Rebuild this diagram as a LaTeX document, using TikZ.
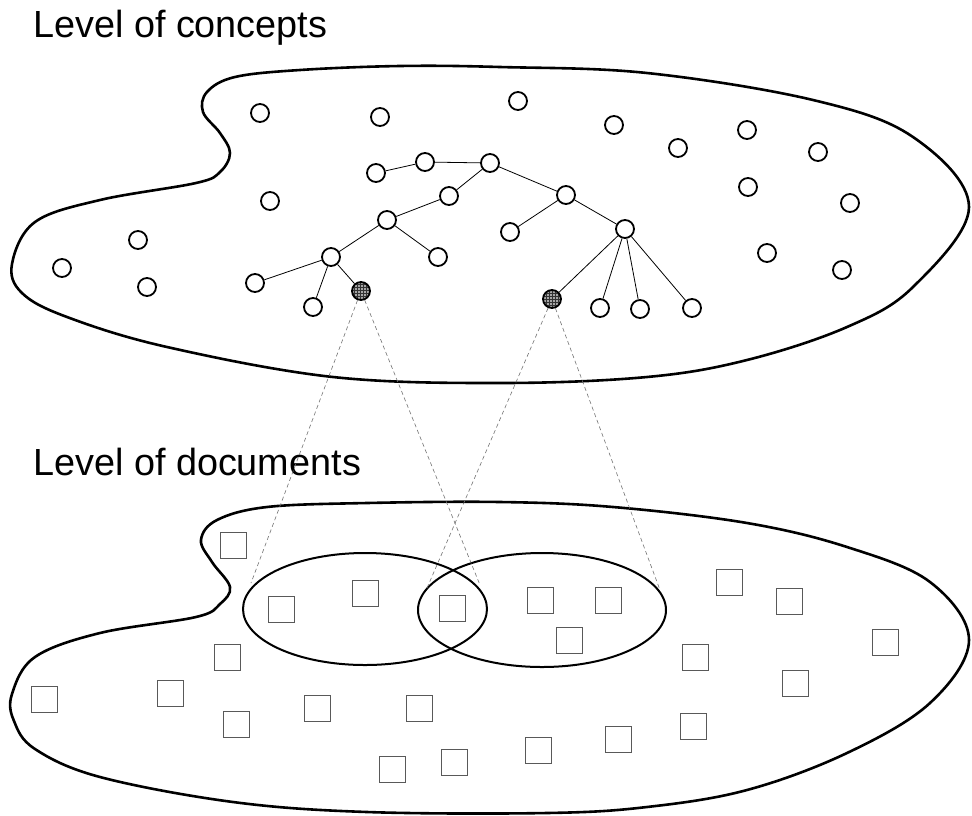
\documentclass[tikz,border=0pt]{standalone}
\usepackage{fontspec}
\setmainfont{Liberation Sans}
\usetikzlibrary{patterns}
\begin{document}
\begin{tikzpicture}[x=1pt,y=-1pt,
  blob/.style={line width=2.6pt, black},
  conc/.style={circle, draw, line width=1.8pt, minimum size=18pt, inner sep=0pt, fill=white},
  sel/.style={circle, draw, line width=1.8pt, minimum size=18pt, inner sep=0pt,
    preaction={fill=black!35}, pattern=grid, pattern color=black!80},
  tedge/.style={line width=0.8pt},
  doc/.style={rectangle, draw=black!65, line width=0.9pt, minimum size=26pt, inner sep=0pt},
  proj/.style={draw=black!55, line width=0.6pt, dash pattern=on 4pt off 3pt},
  set/.style={line width=2pt},
  lbl/.style={anchor=base west, inner sep=0pt, font=\fontsize{37.8}{42}\selectfont}
]
\useasboundingbox (0,0) rectangle (972,815);
\fill[white] (0,0) rectangle (972,815);

% labels
\node[lbl] (lc) at (33,37) {Level of concepts};
\node[lbl] (ld) at (33,475) {Level of documents};

% top blob
\draw[blob] plot[smooth cycle, tension=0.6] coordinates {
 (12,264) (35,222) (100,200) (196,183) (220,172) (230,153) (220,133) (203,112) (207,92)
 (235,77) (300,70) (400,66) (500,67) (647,73) (813,100) (913,137) (969,207)
 (913,287) (847,327) (747,360) (647,377) (500,383) (333,377) (167,347) (67,317) (22,293)};

% bottom blob
\draw[blob] plot[smooth cycle, tension=0.6] coordinates {
 (12,694) (35,657) (100,633) (196,617) (220,604) (230,587) (212,562) (201,540) (217,520)
 (267,507) (367,503) (500,502) (613,507) (747,523) (847,547) (930,582) (969,640)
 (930,703) (847,753) (747,790) (647,807) (547,813) (367,812) (233,802) (100,777) (35,749) (14,721)};

% document sets
\draw[set] (365,609) ellipse [x radius=122, y radius=56];
\draw[set] (542,610) ellipse [x radius=124, y radius=57];

% standalone concepts
\foreach \n/\x/\y in {a1/260/113, a2/380/117, a3/518/101, a4/614/125, a5/678/148, a6/747/130,
  a7/818/152, a8/270/201, a9/138/240, a10/62/268, a11/147/287, a12/748/187, a13/850/203,
  a14/767/253, a15/842/270}
  \node[conc] (\n) at (\x,\y) {};

% tree concepts
\node[conc] (t1) at (376,173) {};
\node[conc] (t2) at (425,162) {};
\node[conc] (t3) at (490,163) {};
\node[conc] (t4) at (449,196) {};
\node[conc] (t5) at (566,195) {};
\node[conc] (t6) at (387,220) {};
\node[conc] (t7) at (510,232) {};
\node[conc] (t8) at (625,229) {};
\node[conc] (t9) at (331,257) {};
\node[conc] (t10) at (438,257) {};
\node[conc] (t11) at (255,283) {};
\node[conc] (t12) at (313,307) {};
\node[sel] (f1) at (361,291) {};
\node[sel] (f2) at (552,299) {};
\node[conc] (t13) at (600,308) {};
\node[conc] (t14) at (640,309) {};
\node[conc] (t15) at (692,308) {};

\draw[tedge] (t1)--(t2) (t2)--(t3) (t3)--(t4) (t4)--(t6) (t6)--(t9) (t6)--(t10)
  (t9)--(t11) (t9)--(t12) (t9)--(f1) (t3)--(t5) (t5)--(t7) (t5)--(t8)
  (t8)--(f2) (t8)--(t13) (t8)--(t14) (t8)--(t15);

% projections
\coordinate (p1) at (251,583);
\coordinate (p2) at (480,585);
\coordinate (p3) at (427,588);
\coordinate (p4) at (660,590);
\draw[proj] (f1) -- (p1);
\draw[proj] (f1) -- (p2);
\draw[proj] (f2) -- (p3);
\draw[proj] (f2) -- (p4);

% documents
\foreach \n/\x/\y in {d1/233/545, d2/281/609, d3/365/593, d4/452/608, d5/227/657, d6/44/699,
  d7/170/693, d8/236/724, d9/317/708, d10/419/708, d11/392/769, d12/454/762,
  d13/540/600, d14/608/600, d15/569/640, d16/729/582, d17/789/601, d18/885/642,
  d19/695/657, d20/795/683, d21/693/726, d22/618/739, d23/538/750}
  \node[doc] (\n) at (\x,\y) {};
\end{tikzpicture}
\end{document}
